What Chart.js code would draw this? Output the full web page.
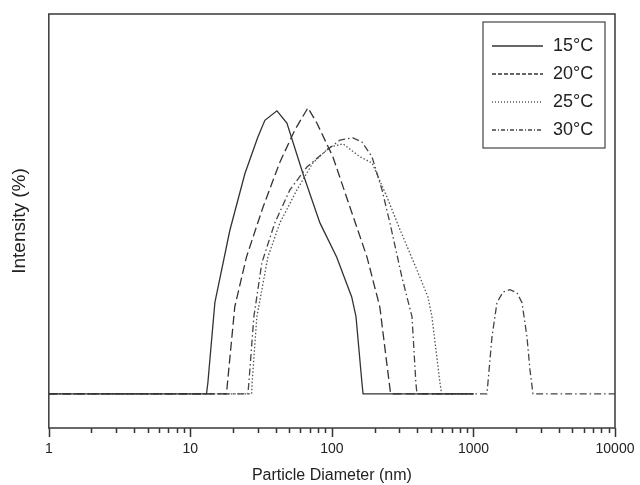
<!DOCTYPE html>
<html>
<head>
<meta charset="utf-8">
<title>Particle size distribution</title>
<script src="https://cdn.jsdelivr.net/npm/chart.js@4.4.1/dist/chart.umd.min.js"></script>
<style>
  html, body { margin: 0; padding: 0; background: #fff; }
</style>
</head>
<body>
<canvas id="dlsChart" width="640" height="485"></canvas>
<script>
// values: particle diameter (nm) vs intensity (arbitrary %)
const seriesLabels = ["15°C", "20°C", "25°C", "30°C"];

const diam15 = [1, 13.0, 13.3, 14.9, 19.0, 24.3, 30.0, 33.6, 40.9, 48.1, 62.4, 82.3, 108, 138, 148, 163, 166, 1000];
const int15  = [0, 0, 2.9, 24, 43, 58, 67.6, 72, 74.5, 71.3, 58, 45, 36, 25.5, 20.3, 2.9, 0, 0];

const diam20 = [1, 18.0, 18.3, 20.6, 24.9, 32.5, 42.9, 54.8, 67.7, 78.3, 101.6, 134, 177, 218, 249, 260, 1000];
const int20  = [0, 0, 2.9, 22.9, 36, 49, 61, 69.5, 75.3, 71.3, 62.4, 49.2, 36, 22.9, 5.5, 0, 0];

const diam25 = [1, 27.1, 27.3, 29.5, 35.3, 42.9, 56.6, 73.4, 96.8, 120, 158, 192, 245, 303, 399, 477, 509, 580, 596, 1000];
const int25  = [0, 0, 2.9, 20.3, 36, 45, 53.7, 60.8, 65, 65.8, 62.4, 60.8, 51.8, 43.2, 32.6, 25.5, 20.3, 2.9, 0, 0];

const diam30 = [1, 25.5, 25.9, 28.1, 32.0, 39.5, 50.5, 66.6, 92.2, 114, 141, 163, 192, 226, 257, 312, 368, 392, 399,
                1245, 1266, 1352, 1466, 1616, 1811, 2029, 2203, 2388, 2508, 2633, 10000];
const int30  = [0, 0, 2.9, 20.3, 34.5, 45, 53.7, 59.7, 64.2, 66.8, 67.4, 66.3, 62.4, 53.7, 45, 30.8, 20.3, 2.9, 0,
                0, 2.9, 15, 24, 26.8, 27.4, 26.6, 24, 15, 6.3, 0, 0];

const majorTicks = [1, 10, 100, 1000, 10000];
const minorSteps = [2, 3, 4, 5, 6, 7, 8, 9];

const FONT = '"Liberation Sans", Arial, Helvetica, sans-serif';
const INK = "#333";

function toPoints(xs, ys) {
    return xs.map((x, i) => ({ x: x, y: ys[i] }));
}

function makeDataset(label, xs, ys, dash, legendDash, color) {
    return {
        label: label,
        data: toPoints(xs, ys),
        borderColor: color,
        borderWidth: 1.3,
        borderDash: dash,
        legendDash: legendDash,
        pointRadius: 0,
        fill: false,
        tension: 0
    };
}

// frame, tick marks and the boxed legend inside the plot
const decorations = {
    id: "decorations",
    afterDraw(chart) {
        const { ctx, chartArea } = chart;
        const xs = chart.scales.x;
        ctx.save();

        // tick marks under the bottom axis
        ctx.strokeStyle = INK;
        ctx.lineWidth = 1.5;
        xs.ticks.forEach(t => {
            const px = Math.round(xs.getPixelForValue(t.value)) + 0.5;
            const len = majorTicks.includes(t.value) ? 9 : 5;
            ctx.beginPath();
            ctx.moveTo(px, chartArea.bottom);
            ctx.lineTo(px, chartArea.bottom + len);
            ctx.stroke();
        });

        // box around the plot
        ctx.strokeStyle = "#444";
        ctx.lineWidth = 1.6;
        ctx.strokeRect(chartArea.left, chartArea.top, chartArea.right - chartArea.left, chartArea.bottom - chartArea.top);

        // legend
        const w = 122, h = 126;
        const x0 = chartArea.right - 10 - w;
        const y0 = chartArea.top + 8;
        ctx.lineWidth = 1.2;
        ctx.strokeRect(x0, y0, w, h);
        ctx.font = "18px " + FONT;
        ctx.textBaseline = "middle";
        ctx.textAlign = "left";
        chart.data.datasets.forEach((ds, i) => {
            const y = y0 + 24 + i * 28;
            ctx.setLineDash(ds.legendDash);
            ctx.strokeStyle = ds.borderColor;
            ctx.lineWidth = ds.borderWidth;
            ctx.beginPath();
            ctx.moveTo(x0 + 9, y);
            ctx.lineTo(x0 + 60, y);
            ctx.stroke();
            ctx.setLineDash([]);
            ctx.fillStyle = "#222";
            ctx.fillText(ds.label, x0 + 70, y);
        });
        ctx.restore();
    }
};

new Chart(document.getElementById("dlsChart").getContext("2d"), {
    type: "line",
    data: {
        datasets: [
            makeDataset(seriesLabels[0], diam15, int15, [], [], "#333"),
            makeDataset(seriesLabels[1], diam20, int20, [9, 4], [4, 2], "#333"),
            makeDataset(seriesLabels[2], diam25, int25, [1.5, 2], [1, 2], "#555"),
            makeDataset(seriesLabels[3], diam30, int30, [7, 3, 1.5, 3], [4, 2, 1, 2], "#444")
        ]
    },
    options: {
        responsive: false,
        animation: false,
        devicePixelRatio: 1,
        layout: { padding: { top: 14, left: 8, right: 25, bottom: 0 } },
        plugins: {
            legend: { display: false },
            tooltip: { enabled: false }
        },
        scales: {
            x: {
                type: "logarithmic",
                min: 1,
                max: 10000,
                afterBuildTicks(scale) {
                    const ticks = [];
                    majorTicks.forEach((d, i) => {
                        ticks.push({ value: d });
                        if (i < majorTicks.length - 1) {
                            minorSteps.forEach(m => ticks.push({ value: d * m }));
                        }
                    });
                    scale.ticks = ticks;
                },
                border: { display: false },
                grid: {
                    drawOnChartArea: false,
                    drawTicks: true,
                    tickLength: 10,
                    tickColor: "rgba(0,0,0,0)"
                },
                ticks: {
                    autoSkip: false,
                    maxRotation: 0,
                    padding: 3,
                    color: "#222",
                    font: { family: FONT, size: 14 },
                    callback: v => majorTicks.includes(v) ? String(v) : ""
                },
                title: {
                    display: true,
                    text: "Particle Diameter (nm)",
                    color: "#222",
                    font: { family: FONT, size: 16 },
                    padding: { top: 5, bottom: 0 }
                }
            },
            y: {
                min: -9,
                max: 100,
                border: { display: false },
                grid: { display: false, drawTicks: false },
                ticks: { display: false },
                title: {
                    display: true,
                    text: "Intensity (%)",
                    color: "#222",
                    font: { family: FONT, size: 19 },
                    padding: { top: 0, bottom: 18 }
                }
            }
        }
    },
    plugins: [decorations]
});
</script>
</body>
</html>
